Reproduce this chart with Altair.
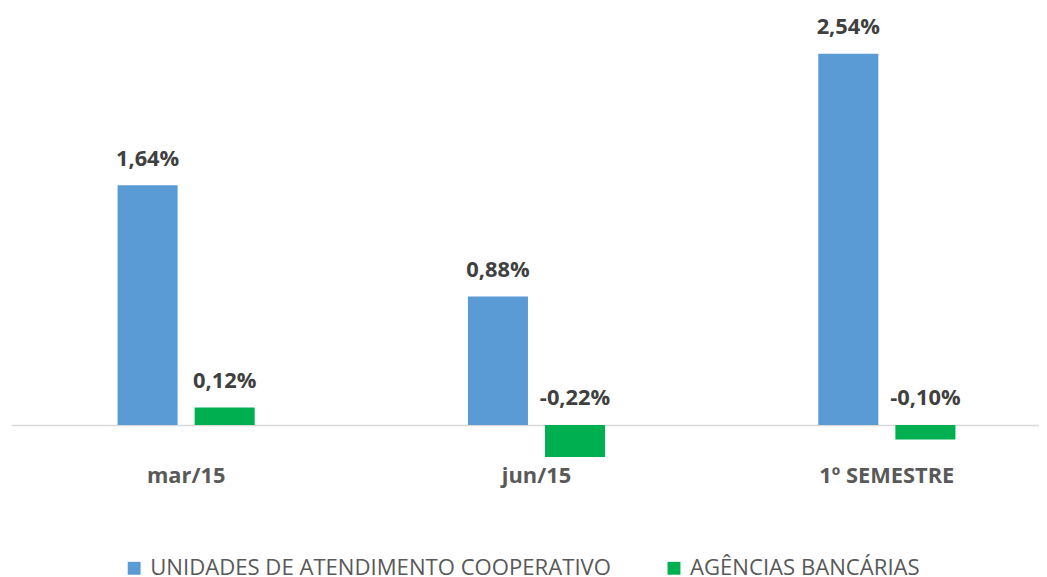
import altair as alt
import pandas as pd

categories = ["mar/15", "jun/15", "1º SEMESTRE"]
series = ["UNIDADES DE ATENDIMENTO COOPERATIVO", "AGÊNCIAS BANCÁRIAS"]
unidades = [1.64, 0.88, 2.54]
agencias = [0.12, -0.22, -0.10]
colors = ["#5B9BD5", "#00B050"]

rows = []
for c, u, a in zip(categories, unidades, agencias):
    for s, v in ((series[0], u), (series[1], a)):
        rows.append({
            "cat": c,
            "serie": s,
            "valor": v,
            "ancora": max(v, 0.0),
            "rotulo": f"{v:.2f}%".replace(".", ","),
        })
df = pd.DataFrame(rows)

FONT = "Open Sans"
W = 1036
H = 569
PX_PER_UNIT = 147.24
Y_MAX = 418 / PX_PER_UNIT
Y_MIN = Y_MAX - H / PX_PER_UNIT

x_scale = alt.Scale(domain=categories, paddingInner=0.6086,
                    paddingOuter=0.2714, align=0.5605)
x_axis = alt.Axis(orient="bottom", offset=-(H - 469), domain=False, ticks=False,
                  tickSize=0, labelPadding=0, labelBaseline="middle",
                  labelFont=FONT, labelFontSize=22, labelFontWeight="bold",
                  labelColor="#595959", labelAngle=0, title=None, grid=False)
y_axis = alt.Axis(values=[0], grid=True, gridColor="#D9D9D9", gridWidth=1.5,
                  labels=False, ticks=False, domain=False, title=None)
y_scale = alt.Scale(domain=[Y_MIN, Y_MAX], nice=False, zero=False)

base = alt.Chart(df)

bars = base.mark_bar().encode(
    x=alt.X("cat:N", sort=categories, axis=x_axis, scale=x_scale),
    xOffset=alt.XOffset("serie:N", sort=series,
                        scale=alt.Scale(paddingInner=0.221, paddingOuter=0)),
    y=alt.Y("valor:Q", scale=y_scale, axis=y_axis),
    color=alt.Color("serie:N", sort=series,
                    scale=alt.Scale(domain=series, range=colors),
                    legend=alt.Legend(orient="none", legendX=113, legendY=551,
                                      direction="horizontal", title=None,
                                      symbolType="square", symbolSize=169,
                                      symbolStrokeWidth=0, symbolOpacity=1,
                                      labelFont=FONT, labelFontSize=22.3,
                                      labelColor="#595959", labelOffset=5,
                                      labelLimit=0, columnPadding=52, padding=0)),
)

labels = base.mark_text(
    font=FONT, fontSize=22, fontWeight="bold", color="#404040",
    baseline="middle", dy=-27,
).encode(
    x=alt.X("cat:N", sort=categories),
    xOffset=alt.XOffset("serie:N", sort=series),
    y=alt.Y("ancora:Q"),
    text="rotulo:N",
)

chart = alt.layer(bars, labels).properties(
    width=W, height=H,
    padding={"left": 3, "top": 0, "right": 0, "bottom": 0},
    autosize=alt.AutoSizeParams(type="none"),
).configure_view(stroke=None)

chart.save("out.html", embed_options={"renderer": "svg", "actions": False})
